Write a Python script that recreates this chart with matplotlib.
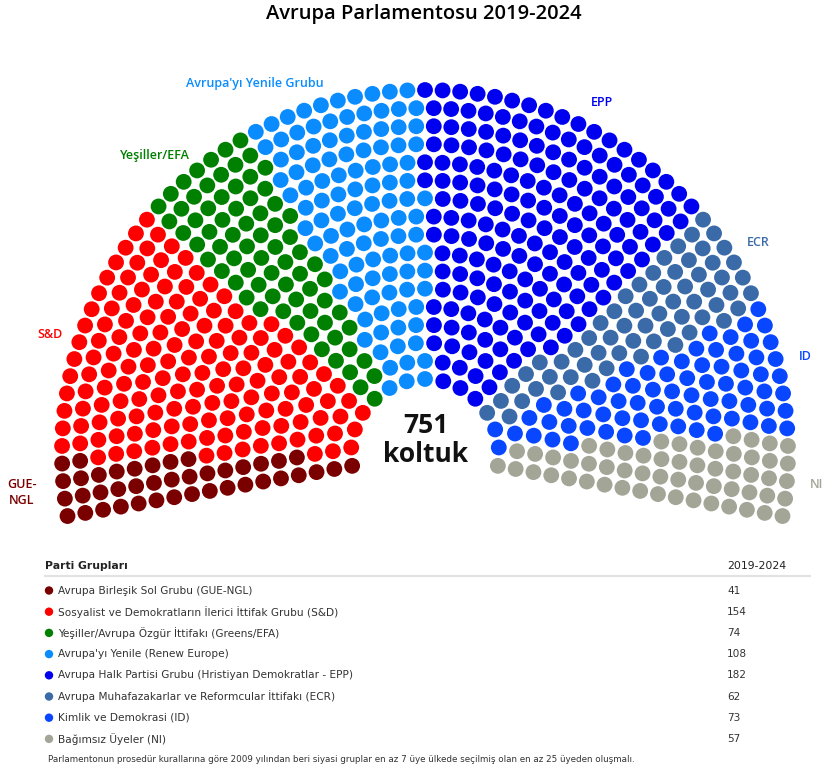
import numpy as np
import matplotlib
matplotlib.use("Agg")
import matplotlib.pyplot as plt
from matplotlib.patches import Circle

# Data
parties = ["GUE-NGL", "S&D", "Greens/EFA", "Renew", "EPP", "ECR", "ID", "NI"]
seats = [41, 154, 74, 108, 182, 62, 73, 57]
colors = ["#7a0000", "#ff0000", "#008000", "#0a8cff", "#0000f0", "#3a6ba8", "#0846ff", "#a3a597"]
arc_labels = ["GUE-\nNGL", "S&D", "Yeşiller/EFA", "Avrupa'yı Yenile Grubu", "EPP", "ECR", "ID", "NI"]
table_names = [
    "Avrupa Birleşik Sol Grubu (GUE-NGL)",
    "Sosyalist ve Demokratların İlerici İttifak Grubu (S&D)",
    "Yeşiller/Avrupa Özgür İttifakı (Greens/EFA)",
    "Avrupa'yı Yenile (Renew Europe)",
    "Avrupa Halk Partisi Grubu (Hristiyan Demokratlar - EPP)",
    "Avrupa Muhafazakarlar ve Reformcular İttifakı (ECR)",
    "Kimlik ve Demokrasi (ID)",
    "Bağımsız Üyeler (NI)",
]
title = "Avrupa Parlamentosu 2019-2024"
footnote = "Parlamentonun prosedür kurallarına göre 2009 yılından beri siyasi gruplar en az 7 üye ülkede seçilmiş olan en az 25 üyeden oluşmalı."

# Layout (pixel space)
cx, cy = 425, 453
r_in, r_out = 74, 363
n_rows = 17
a_start, a_end = np.radians(190), np.radians(-10)
dot_r = 7.9

total = sum(seats)
radii = np.linspace(r_in, r_out, n_rows)
raw = total * radii / radii.sum()
per_row = np.floor(raw).astype(int)
rem = total - per_row.sum()
order = np.argsort(-(raw - per_row))
per_row[order[:rem]] += 1

pos = []
for r, n in zip(radii, per_row):
    for a in np.linspace(a_start, a_end, n):
        pos.append((a, r))
pos.sort(key=lambda p: (-round(p[0], 9), p[1]))

seat_colors = np.repeat(colors, seats)

fig = plt.figure(figsize=(8.24, 7.68), dpi=100)
ax = fig.add_axes([0, 0, 1, 1])
ax.set_xlim(0, 824)
ax.set_ylim(768, 0)
ax.set_aspect("equal")
ax.axis("off")

for (a, r), c in zip(pos, seat_colors):
    x = cx + r * np.cos(a)
    y = cy - r * np.sin(a)
    ax.add_patch(Circle((x, y), dot_r, color=c, lw=0))

font = ["Open Sans", "DejaVu Sans"]
ax.text(424, 14, title, ha="center", va="center", fontsize=14.5, family=font, fontweight="semibold")
ax.text(426, 440, "751\nkoltuk", ha="center", va="center", fontsize=19, family=font,
        fontweight="bold", color="#111111", linespacing=1.1)

# Group labels round the arc
label_xy = [(22, 492), (50, 335), (155, 155), (255, 83), (602, 102), (758, 243), (805, 357), (817, 485)]
for lab, (x, y), c in zip(arc_labels, label_xy, colors):
    ax.text(x, y, lab, ha="center", va="center", fontsize=9, color=c, family=font,
            fontweight="semibold", linespacing=1.3)

# Table
tfont = ["Liberation Sans Narrow", "DejaVu Sans"]
ax.text(45, 566, "Parti Grupları", ha="left", va="center", fontsize=7.8, family=tfont,
        fontweight="bold", color="#222222")
ax.text(727, 566, "2019-2024", ha="left", va="center", fontsize=7.8, family=tfont, color="#222222")
ax.plot([45, 810], [576, 576], color="#e2e2e2", lw=1.5)
for i, (name, n, c) in enumerate(zip(table_names, seats, colors)):
    y = 590.5 + i * 21.2
    ax.add_patch(Circle((49, y), 4.2, color=c, lw=0))
    ax.text(58, y, name, ha="left", va="center", fontsize=7.6, family=tfont, color="#333333")
    ax.text(727, y, str(n), ha="left", va="center", fontsize=7.6, family=tfont, color="#333333")
ax.text(48, 759, footnote, ha="left", va="center", fontsize=6.3, family=tfont, color="#333333")

fig.savefig("out.png", dpi=100, facecolor="white")
